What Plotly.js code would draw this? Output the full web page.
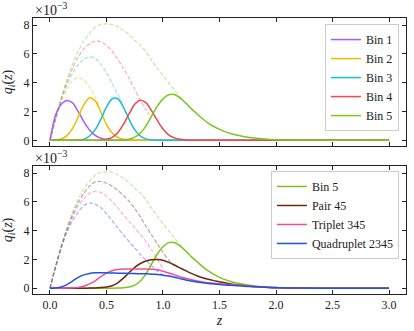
<!DOCTYPE html>
<html>
<head>
<meta charset="utf-8">
<script src="https://cdn.plot.ly/plotly-3.0.1.min.js"></script>
<style>
  html, body { margin: 0; padding: 0; background: #fff; }
  #plot { width: 414px; height: 331px; }
</style>
</head>
<body>
<div id="plot"></div>
<script>
// redshift grid shared by the solid curves
var zGrid = [0, 0.05, 0.1, 0.15, 0.2, 0.25, 0.3, 0.35, 0.4, 0.45,
             0.5, 0.55, 0.6, 0.65, 0.7, 0.75, 0.8, 0.85, 0.9, 0.95,
             1.0, 1.05, 1.1, 1.15, 1.2, 1.25, 1.3, 1.35, 1.4, 1.45,
             1.5, 1.55, 1.6, 1.65, 1.7, 1.75, 1.8, 1.85, 1.9, 1.95,
             2.0, 2.05, 2.1, 2.15, 2.2, 2.5, 3.0];

// solid curves, units of 1e-3
var bin1 = [0, 1.75, 2.5, 2.77, 2.6, 2.0, 1.3, 0.72, 0.35, 0.15,
            0.06, 0.02, 0.01, 0, 0, 0, 0, 0, 0, 0,
            0, 0, 0, 0, 0, 0, 0, 0, 0, 0,
            0, 0, 0, 0, 0, 0, 0, 0, 0, 0,
            0, 0, 0, 0, 0, 0, 0];
var bin2 = [0, 0.02, 0.1, 0.33, 0.83, 1.62, 2.48, 2.95, 2.74, 1.98,
            1.11, 0.5, 0.2, 0.07, 0.02, 0, 0, 0, 0, 0,
            0, 0, 0, 0, 0, 0, 0, 0, 0, 0,
            0, 0, 0, 0, 0, 0, 0, 0, 0, 0,
            0, 0, 0, 0, 0, 0, 0];
var bin3 = [0, 0, 0, 0, 0.01, 0.02, 0.08, 0.3, 0.74, 1.46,
            2.3, 2.89, 2.89, 2.3, 1.46, 0.74, 0.3, 0.1, 0.03, 0.01,
            0, 0, 0, 0, 0, 0, 0, 0, 0, 0,
            0, 0, 0, 0, 0, 0, 0, 0, 0, 0,
            0, 0, 0, 0, 0, 0, 0];
var bin4 = [0, 0, 0, 0, 0, 0, 0, 0, 0.01, 0.03,
            0.07, 0.2, 0.53, 1.1, 1.83, 2.5, 2.78, 2.6, 2.05, 1.38,
            0.78, 0.38, 0.17, 0.07, 0.03, 0.01, 0, 0, 0, 0,
            0, 0, 0, 0, 0, 0, 0, 0, 0, 0,
            0, 0, 0, 0, 0, 0, 0];
var bin5 = [0, 0, 0, 0, 0, 0, 0, 0, 0, 0,
            0, 0, 0.01, 0.03, 0.08, 0.22, 0.5, 1.0, 1.7, 2.38,
            2.88, 3.17, 3.18, 2.95, 2.6, 2.2, 1.85, 1.5, 1.2, 0.96,
            0.76, 0.6, 0.47, 0.37, 0.29, 0.22, 0.16, 0.12, 0.09, 0.06,
            0.04, 0.03, 0.02, 0.01, 0.01, 0, 0];
var pair45 = [0, 0, 0, 0, 0, 0, 0, 0.01, 0.02, 0.05,
              0.09, 0.17, 0.38, 0.7, 1.08, 1.45, 1.72, 1.9, 1.98, 2.0,
              1.95, 1.8, 1.62, 1.42, 1.22, 1.03, 0.87, 0.73, 0.62, 0.53,
              0.45, 0.38, 0.3, 0.25, 0.2, 0.16, 0.12, 0.1, 0.08, 0.06,
              0.05, 0.03, 0.02, 0.01, 0.01, 0, 0];
var triplet345 = [0, 0, 0, 0.01, 0.03, 0.06, 0.14, 0.3, 0.52, 0.8,
                  1.05, 1.22, 1.3, 1.33, 1.34, 1.34, 1.34, 1.33, 1.32, 1.28,
                  1.18, 1.06, 0.93, 0.8, 0.69, 0.59, 0.5, 0.44, 0.39, 0.35,
                  0.31, 0.28, 0.25, 0.22, 0.19, 0.16, 0.13, 0.1, 0.08, 0.06,
                  0.05, 0.03, 0.02, 0.01, 0.01, 0, 0];
var quad2345 = [0, 0.02, 0.08, 0.25, 0.5, 0.75, 0.93, 1.03, 1.07, 1.08,
                1.07, 1.06, 1.05, 1.04, 1.03, 1.02, 1.01, 1.0, 0.98, 0.95,
                0.91, 0.85, 0.77, 0.67, 0.57, 0.5, 0.43, 0.38, 0.33, 0.29,
                0.26, 0.23, 0.2, 0.18, 0.16, 0.13, 0.11, 0.09, 0.07, 0.05,
                0.04, 0.03, 0.02, 0.01, 0.01, 0, 0];

// dashed (faded) curves, each on its own z range
var zKern2 = [0, 0.05, 0.1, 0.15, 0.2, 0.25, 0.3, 0.35, 0.4, 0.43];
var kern2  = [0, 1.45, 2.65, 3.55, 4.15, 4.36, 4.2, 3.7, 3.0, 2.5];
var zKern3 = [0, 0.05, 0.1, 0.15, 0.2, 0.25, 0.3, 0.35, 0.4, 0.45, 0.5, 0.55, 0.6, 0.65];
var kern3  = [0, 1.5, 2.8, 3.85, 4.65, 5.25, 5.65, 5.8, 5.7, 5.3, 4.7, 3.95, 3.2, 2.45];
var zKern4 = [0, 0.05, 0.1, 0.15, 0.2, 0.25, 0.3, 0.35, 0.4, 0.45,
              0.5, 0.55, 0.6, 0.65, 0.7, 0.75, 0.8, 0.85, 0.88];
var kern4  = [0, 1.5, 2.9, 4.05, 5.0, 5.8, 6.35, 6.7, 6.9, 6.85,
              6.6, 6.2, 5.65, 5.0, 4.3, 3.55, 2.8, 2.1, 1.8];
var zKern5 = [0, 0.05, 0.1, 0.15, 0.2, 0.25, 0.3, 0.35, 0.4, 0.45,
              0.5, 0.55, 0.6, 0.65, 0.7, 0.75, 0.8, 0.85, 0.9, 0.95,
              1.0, 1.05, 1.1, 1.15, 1.18];
var kern5  = [0, 1.5, 2.95, 4.2, 5.3, 6.2, 6.9, 7.45, 7.85, 8.05,
              8.1, 8.05, 7.9, 7.65, 7.35, 6.95, 6.6, 6.15, 5.55, 5.0,
              4.5, 4.0, 3.5, 3.05, 2.75];
var zKernPair = [0, 0.05, 0.1, 0.15, 0.2, 0.25, 0.3, 0.35, 0.4, 0.45,
                 0.5, 0.55, 0.6, 0.65, 0.7, 0.75, 0.8, 0.85, 0.9, 0.95,
                 1.0, 1.05, 1.1, 1.13];
var kernPair  = [0, 1.5, 2.9, 4.1, 5.1, 5.95, 6.6, 7.1, 7.4, 7.42,
                 7.3, 7.1, 6.8, 6.45, 6.05, 5.55, 4.95, 4.3, 3.7, 3.1,
                 2.5, 1.95, 1.6, 1.45];
var zKernTrip = [0, 0.05, 0.1, 0.15, 0.2, 0.25, 0.3, 0.35, 0.4, 0.45,
                 0.5, 0.55, 0.6, 0.65, 0.7, 0.75, 0.8, 0.85, 0.9, 0.95, 1.0];
var kernTrip  = [0, 1.5, 2.85, 4.0, 4.95, 5.7, 6.25, 6.6, 6.73, 6.65,
                 6.4, 6.05, 5.6, 5.1, 4.65, 4.2, 3.75, 3.25, 2.65, 2.0, 1.4];
var zKernQuad = [0, 0.05, 0.1, 0.15, 0.2, 0.25, 0.3, 0.35, 0.4, 0.45,
                 0.5, 0.55, 0.6, 0.65, 0.7, 0.75, 0.8, 0.85, 0.9, 0.95, 1.0];
var kernQuad  = [0, 1.5, 2.8, 3.9, 4.7, 5.3, 5.75, 5.92, 5.85, 5.6,
                 5.2, 4.7, 4.2, 3.7, 3.25, 2.8, 2.35, 1.95, 1.55, 1.2, 0.95];

var xTicks = [0, 0.5, 1.0, 1.5, 2.0, 2.5, 3.0];
var xTickText = ['0.0', '0.5', '1.0', '1.5', '2.0', '2.5', '3.0'];
var yTicks = [0, 2, 4, 6, 8];

var colBin1 = '#ac5cf2', colBin2 = '#e6bf00', colBin3 = '#1bbcd6',
    colBin4 = '#ee474c', colBin5 = '#7cc520', colPair = '#6b2a0e',
    colTrip = '#ee4f98', colQuad = '#2052e0';

var FONT = "'Liberation Serif', 'DejaVu Serif', serif";

function solid(x, y, name, color, xa, ya, leg) {
	return {x: x, y: y, name: name, type: 'scatter', mode: 'lines',
		line: {color: color, width: 1.5, shape: 'spline', smoothing: 0.8},
		xaxis: xa, yaxis: ya, legend: leg, hoverinfo: 'skip'};
}
function faded(x, y, color, xa, ya) {
	return {x: x, y: y, type: 'scatter', mode: 'lines', showlegend: false,
		opacity: 0.4,
		line: {color: color, width: 1.3, dash: '4px,2px', shape: 'spline', smoothing: 0.8},
		xaxis: xa, yaxis: ya, hoverinfo: 'skip'};
}

var traces = [
	// top panel
	faded(zKern2, kern2, colBin2, 'x', 'y'),
	faded(zKern3, kern3, colBin3, 'x', 'y'),
	faded(zKern4, kern4, colBin4, 'x', 'y'),
	faded(zKern5, kern5, colBin5, 'x', 'y'),
	solid(zGrid, bin1, 'Bin 1', colBin1, 'x', 'y', 'legend'),
	solid(zGrid, bin2, 'Bin 2', colBin2, 'x', 'y', 'legend'),
	solid(zGrid, bin3, 'Bin 3', colBin3, 'x', 'y', 'legend'),
	solid(zGrid, bin4, 'Bin 4', colBin4, 'x', 'y', 'legend'),
	solid(zGrid, bin5, 'Bin 5', colBin5, 'x', 'y', 'legend'),
	// bottom panel
	faded(zKern5, kern5, colBin5, 'x2', 'y2'),
	faded(zKernPair, kernPair, colPair, 'x2', 'y2'),
	faded(zKernTrip, kernTrip, colTrip, 'x2', 'y2'),
	faded(zKernQuad, kernQuad, colQuad, 'x2', 'y2'),
	solid(zGrid, bin5, 'Bin 5', colBin5, 'x2', 'y2', 'legend2'),
	solid(zGrid, pair45, 'Pair 45', colPair, 'x2', 'y2', 'legend2'),
	solid(zGrid, triplet345, 'Triplet 345', colTrip, 'x2', 'y2', 'legend2'),
	solid(zGrid, quad2345, 'Quadruplet 2345', colQuad, 'x2', 'y2', 'legend2')
];

var axisBase = {
	showgrid: false, zeroline: false,
	showline: true, linecolor: '#222', linewidth: 1,
	ticks: 'inside', ticklen: 4, tickwidth: 1, tickcolor: '#222',
	mirror: 'ticks',
	tickfont: {family: FONT, size: 12, color: '#222'}
};

function ax(extra) { return Object.assign({}, axisBase, extra); }

var topDom = [0.536, 1], botDom = [0, 0.4638];
var yTitle = {text: '<i>q<sub>i</sub></i>(<i>z</i>)', font: {family: FONT, size: 14, color: '#222'}, standoff: 7};
var scaleNote = '×10<sup>−3</sup>';

var legendBase = {
	xref: 'paper', yref: 'paper', xanchor: 'right', yanchor: 'top',
	bgcolor: 'rgba(255,255,255,0.85)', bordercolor: '#cccccc', borderwidth: 1,
	font: {family: FONT, size: 12, color: '#222'},
	tracegroupgap: 0
};

var layout = {
	width: 414, height: 331,
	margin: {l: 33, r: 8, t: 18, b: 37},
	paper_bgcolor: '#fff', plot_bgcolor: '#fff',
	font: {family: FONT, color: '#222'},
	xaxis: ax({domain: [0, 1], anchor: 'y', range: [-0.15, 3.15], tickvals: xTicks,
		showticklabels: false}),
	yaxis: ax({domain: topDom, anchor: 'x', range: [-0.4, 8.5], tickvals: yTicks, title: yTitle}),
	xaxis2: ax({domain: [0, 1], anchor: 'y2', range: [-0.15, 3.15], tickvals: xTicks,
		ticktext: xTickText,
		title: {text: '<i>z</i>', font: {family: FONT, size: 14, color: '#222'}, standoff: 3}}),
	yaxis2: ax({domain: botDom, anchor: 'x2', range: [-0.4, 8.5], tickvals: yTicks, title: yTitle}),
	legend: Object.assign({}, legendBase, {x: 0.981, y: 0.978}),
	legend2: Object.assign({}, legendBase, {x: 0.981, y: 0.4457}),
	annotations: [
		{xref: 'paper', yref: 'paper', x: 0, y: topDom[1], xanchor: 'left', yanchor: 'bottom',
			yshift: -2, text: scaleNote, showarrow: false, font: {family: FONT, size: 14, color: '#222'}},
		{xref: 'paper', yref: 'paper', x: 0, y: botDom[1], xanchor: 'left', yanchor: 'bottom',
			yshift: -2, text: scaleNote, showarrow: false, font: {family: FONT, size: 14, color: '#222'}}
	],
	showlegend: true
};

Plotly.newPlot('plot', traces, layout, {displayModeBar: false, staticPlot: true});
</script>
</body>
</html>
